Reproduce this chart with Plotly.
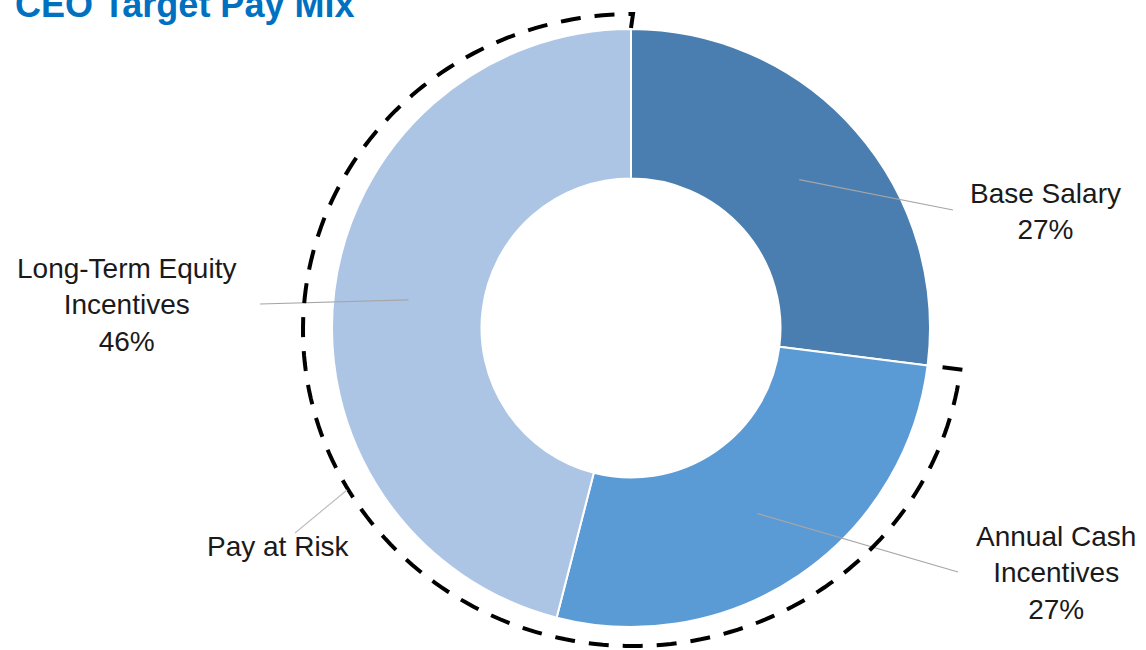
import math
import plotly.graph_objects as go

# ---- data ----
categories = ["Base Salary", "Annual Cash Incentives", "Long-Term Equity Incentives"]
label_text = ["Base Salary", "Annual Cash<br>Incentives", "Long-Term Equity<br>Incentives"]
shares = [27, 27, 46]
colors = ["#4A7EB0", "#5B9BD5", "#ADC5E5"]
title_text = "CEO Target Pay Mix"
risk_label = "Pay at Risk"

W, H = 1146, 650
CX, CY, R = 631, 328, 299      # pie centre / radius in px
HOLE = 0.5
FONT = "Liberation Sans, Arial"

def px(x, y):
    return x / W, 1 - y / H

fig = go.Figure()
fig.add_trace(go.Pie(
    labels=categories, values=shares, hole=HOLE, sort=False,
    direction="clockwise", rotation=0,
    marker=dict(colors=colors, line=dict(color="white", width=2)),
    textinfo="none", hoverinfo="label+percent", showlegend=False,
    domain=dict(x=[(CX - R) / W, (CX + R) / W], y=[1 - (CY + R) / H, 1 - (CY - R) / H]),
))

# slice angles (degrees clockwise from 12 o'clock)
total = sum(shares)
bounds = [0]
for v in shares:
    bounds.append(bounds[-1] + v / total * 360)
mids = [(bounds[i] + bounds[i + 1]) / 2 for i in range(len(shares))]

def polar(ang, r, cx=CX, cy=CY, ry=None):
    a = math.radians(ang)
    ry = r if ry is None else ry
    return cx + r * math.sin(a), cy - ry * math.cos(a)

shapes = []
annotations = []

# leader lines + labels
r_mid = R * (1 + HOLE) / 2
line_ends = [(953, 210), (958, 572), (260, 304)]
label_pos = [(1045, 211), (1056, 573), (126, 305)]
for i in range(len(shares)):
    sx, sy = polar(mids[i], r_mid)
    ex, ey = line_ends[i]
    x0, y0 = px(sx, sy)
    x1, y1 = px(ex, ey)
    shapes.append(dict(type="line", xref="paper", yref="paper", x0=x0, y0=y0, x1=x1, y1=y1,
                       line=dict(color="#A6A6A6", width=1.2), layer="above"))
    lx, ly = px(*label_pos[i])
    annotations.append(dict(text=f"{label_text[i]}<br>{shares[i]}%", x=lx, y=ly,
                            xref="paper", yref="paper", xanchor="center", yanchor="middle",
                            showarrow=False, align="center",
                            font=dict(family=FONT, size=28, color="#1A1A1A")))

# dashed "pay at risk" bracket (elliptical arc from end of Base Salary round to top)
ACX, ACY, ARX, ARY = 633, 330, 330, 316
start_ang = bounds[1]
pts = []
tx, ty = polar(start_ang, ARX - 18, ACX, ACY, ARY - 18)
pts.append((tx, ty))
n = 200
for k in range(n + 1):
    ang = start_ang + (360 - start_ang) * k / n
    pts.append(polar(ang, ARX, ACX, ACY, ARY))
pts.append((CX, CY - R - 1))
path = ""
for j, (x, y) in enumerate(pts):
    fx, fy = px(x, y)
    path += ("M" if j == 0 else "L") + f"{fx:.5f},{fy:.5f} "
shapes.append(dict(type="path", xref="paper", yref="paper", path=path.strip(),
                   line=dict(color="black", width=4, dash="20px,14px"), layer="above"))

# pay-at-risk leader
x0, y0 = px(347, 490)
x1, y1 = px(295, 533)
shapes.append(dict(type="line", xref="paper", yref="paper", x0=x0, y0=y0, x1=x1, y1=y1,
                   line=dict(color="#BFBFBF", width=1.2), layer="above"))
lx, ly = px(278, 546)
annotations.append(dict(text=risk_label, x=lx, y=ly, xref="paper", yref="paper",
                        xanchor="center", yanchor="middle", showarrow=False,
                        font=dict(family=FONT, size=28, color="#1A1A1A")))

# title (partially cut at the top, as in the reference)
tx, ty = px(13, 5)
annotations.append(dict(text=f"<b>{title_text}</b>", x=tx, y=ty, xref="paper", yref="paper",
                        xanchor="left", yanchor="middle", showarrow=False,
                        font=dict(family=FONT, size=36, color="#0070C0")))

fig.update_layout(width=W, height=H, margin=dict(l=0, r=0, t=0, b=0),
                  paper_bgcolor="white", plot_bgcolor="white",
                  shapes=shapes, annotations=annotations)
fig.write_html("out.html", config={"displayModeBar": False},
               post_script="document.body.style.margin='0px';document.body.style.overflow='hidden';")
